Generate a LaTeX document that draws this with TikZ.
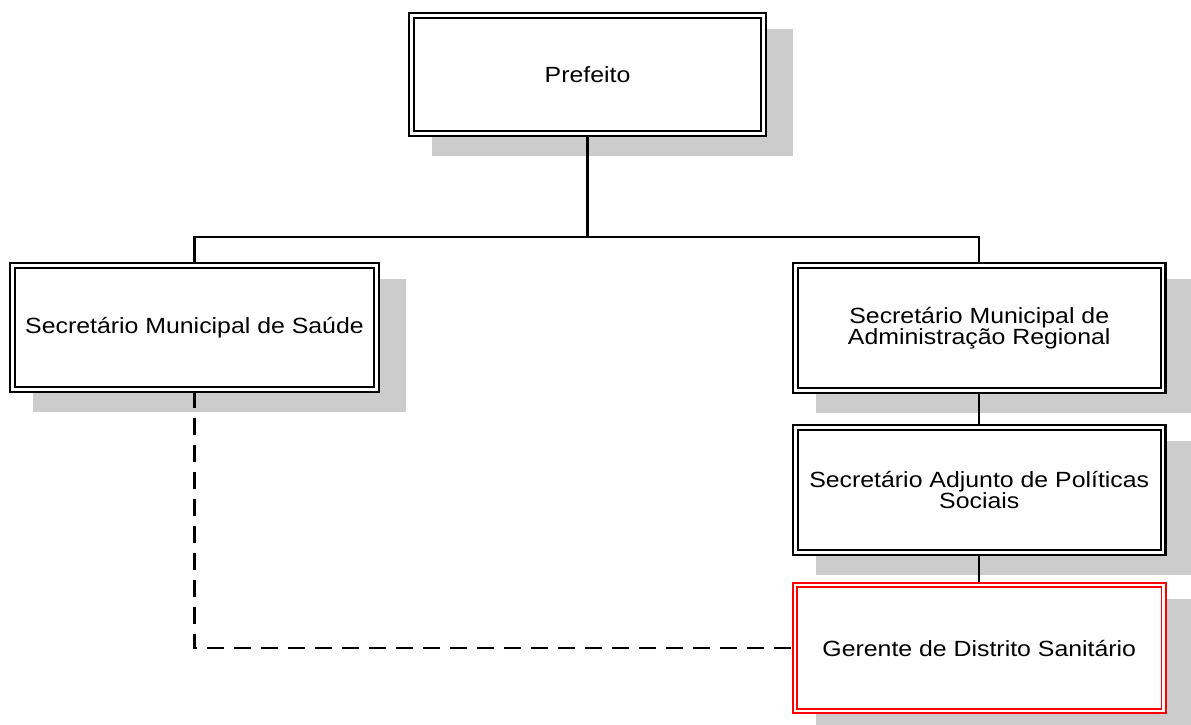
\documentclass[tikz,border=0pt]{standalone}
\usepackage{fontspec}
\setmainfont[FakeStretch=1.13]{Liberation Sans}
\usetikzlibrary{calc}
\pgfdeclarelayer{shd}
\pgfdeclarelayer{conn}
\pgfsetlayers{shd,conn,main}
\newcommand{\dropshade}[2]{\fill[shadowc] ($(#1.north west)+(-#2+25,-#2+18)$) rectangle ($(#1.south east)+(#2+25,#2+18)$);}
\begin{document}
\begin{tikzpicture}[x=1pt,y=-1pt,
  box/.style={draw=black, line width=2.2pt, double=white, double distance=2.4pt, fill=white,
    inner sep=0pt, align=center, font=\fontsize{22}{20.5}\selectfont},
  redbox/.style={box, draw=red, line width=1.7pt, double distance=2.5pt},
  conn/.style={line width=2.2pt, draw=black},
  dconn/.style={conn, dash pattern=on 17pt off 10pt},
  shadowc/.style={fill=black!20}]
\useasboundingbox (0,0) rectangle (1191,725);
\node[box, minimum width=352.2pt, minimum height=118.2pt] (p) at (587.5,74.5) {Prefeito};
\node[box, minimum width=364.2pt, minimum height=124.2pt] (s) at (194.5,327.5) {Secretário Municipal de Saúde};
\node[box, minimum width=367.7pt, minimum height=125.2pt] (m) at (979.25,328) {Secretário Municipal de\\Administração Regional};
\node[box, minimum width=367.7pt, minimum height=125.2pt] (a) at (979.25,490) {Secretário Adjunto de Políticas\\Sociais};
\node[redbox, minimum width=368.6pt, minimum height=126.1pt] (g) at (979.25,648) {Gerente de Distrito Sanitário};
\coordinate (bus) at (0,237);
\begin{pgfonlayer}{shd}
  \dropshade{p}{3.4}
  \dropshade{s}{3.4}
  \dropshade{m}{3.4}
  \dropshade{a}{3.4}
  \dropshade{g}{2.95}
\end{pgfonlayer}
\begin{pgfonlayer}{conn}
  \draw[conn] (p.south) -- (p.south |- bus);
  \draw[conn] (s.north) |- (m.north |- bus) -- (m.north);
  \draw[conn] (m.south) -- (a.north);
  \draw[conn] (a.south) -- (g.north);
  \draw[dconn] (s.south) |- (g.west);
\end{pgfonlayer}
\end{tikzpicture}
\end{document}
